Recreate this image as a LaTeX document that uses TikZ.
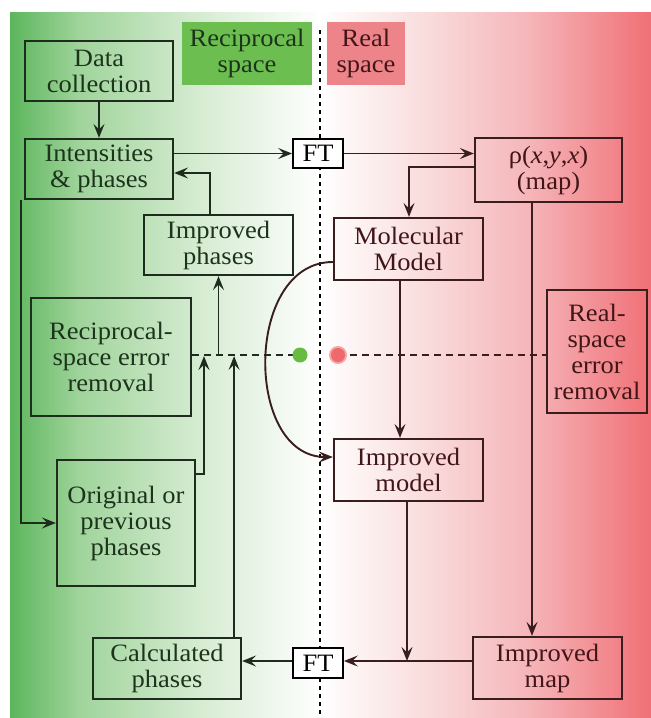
\documentclass[tikz,border=0pt]{standalone}
\usepackage{fontspec}
\setmainfont{Liberation Serif}[FakeStretch=1.06]
\usetikzlibrary{arrows.meta,calc}
\definecolor{gA}{RGB}{92,182,92}
\definecolor{gB}{RGB}{160,212,155}
\definecolor{gC}{RGB}{214,236,210}
\definecolor{rA}{RGB}{250,222,222}
\definecolor{rB}{RGB}{245,182,186}
\definecolor{rC}{RGB}{240,112,118}
\definecolor{gLab}{RGB}{108,190,80}
\definecolor{rLab}{RGB}{236,132,138}
\definecolor{gT}{RGB}{28,52,28}
\definecolor{rT}{RGB}{66,22,24}
\definecolor{gLine}{RGB}{30,44,30}
\definecolor{rLine}{RGB}{58,30,30}
\definecolor{gDot}{RGB}{104,186,64}
\definecolor{rDot}{RGB}{238,104,108}
\newcommand{\fs}{\fontsize{25}{26}\selectfont}
\begin{document}
\begin{tikzpicture}[x=1pt,y=-1pt,
  gbox/.style={draw=gLine, line width=2.2pt, text=gT, align=center, inner sep=0pt, font=\fs},
  rbox/.style={draw=rLine, line width=2.2pt, text=rT, align=center, inner sep=0pt, font=\fs},
  ftbox/.style={draw=black, fill=white, line width=1.8pt, text=black, inner sep=0pt, font=\fs, minimum width=50pt, minimum height=29pt},
  arr/.style={line width=1.9pt, -{Stealth[length=14pt,width=11pt,inset=5.5pt]}},
  garr/.style={arr, draw=gLine},
  rarr/.style={arr, draw=rLine},
  hdash/.style={line width=2pt, dash pattern=on 7pt off 5pt},
]
\useasboundingbox (0,0) rectangle (651,718);
% background
\fill[white] (0,0) rectangle (651,718);
\shade[left color=gA, right color=gB] (10,12) rectangle (80,718);
\shade[left color=gB, right color=gC] (79.5,12) rectangle (200,718);
\shade[left color=gC, right color=white] (199.5,12) rectangle (321,718);
\shade[left color=white, right color=rA] (320,12) rectangle (420,718);
\shade[left color=rA, right color=rB] (419.5,12) rectangle (528,718);
\shade[left color=rB, right color=rC] (527.5,12) rectangle (651,718);
% vertical separator
\draw[black, line width=1.9pt, dash pattern=on 4pt off 4pt] (320,30) -- (320,718);
% space labels
\node[fill=gLab, text=gT, minimum width=130pt, minimum height=63pt, align=center, inner sep=0pt, font=\fs] (recip) at (247,53.5) {Reciprocal\\space};
\node[fill=rLab, text=rT, minimum width=78pt, minimum height=63pt, align=center, inner sep=0pt, font=\fs] (real) at (366,53.5) {Real\\space};
% boxes
\node[gbox, minimum width=148pt, minimum height=60pt] (data) at (99,71) {Data\\collection};
\node[gbox, minimum width=148pt, minimum height=60pt] (inten) at (99,169) {Intensities\\\& phases};
\node[ftbox] (ft1) at (318,153.5) {FT};
\node[rbox, minimum width=147pt, minimum height=64pt] (rho) at (548.5,170) {ρ(\textit{x},\textit{y},\textit{x})\\(map)};
\node[gbox, minimum width=149pt, minimum height=60pt] (impph) at (218.5,245) {Improved\\phases};
\node[rbox, minimum width=149pt, minimum height=62pt] (mol) at (408.5,249) {Molecular\\Model};
\node[gbox, minimum width=160pt, minimum height=118pt] (rerr) at (111,357) {Reciprocal-\\space error\\removal};
\node[rbox, minimum width=100pt, minimum height=123pt] (rserr) at (597,351.5) {Real-\\space\\error\\removal};
\node[rbox, minimum width=149pt, minimum height=62pt] (impmod) at (408.5,470) {Improved\\model};
\node[gbox, minimum width=138pt, minimum height=126pt] (orig) at (126,523) {Original or\\previous\\phases};
\node[gbox, minimum width=148pt, minimum height=61pt] (calc) at (167,668.5) {Calculated\\phases};
\node[ftbox, minimum height=30pt] (ft2) at (318,663) {FT};
\node[rbox, minimum width=149pt, minimum height=62pt] (impmap) at (547.5,668) {Improved\\map};
% error-removal dashed line and dots
\coordinate (gdotc) at (300,355);
\coordinate (rdotc) at (338,355);
\draw[hdash, gLine] (rerr.east |- gdotc) -- (gdotc);
\draw[hdash, rLine] (rdotc) -- (rserr.west |- rdotc);
\fill[gDot] (gdotc) circle (7.5pt);
\fill[rDot!60] (rdotc) circle (9pt);
\fill[rDot] (rdotc) circle (7pt);
% connectors
\draw[garr] (data.south) -- (inten.north);
\draw[garr] (inten.east |- ft1.west) -- (ft1.west);
\draw[rarr] (ft1.east) -- (rho.west |- ft1.east);
\draw[rarr] ([yshift=3pt]rho.west) -| ([xshift=0.5pt]mol.north);
\draw[garr] ([xshift=-8.5pt]impph.north) |- ([yshift=-4pt]inten.east);
\draw[garr] ([xshift=-3pt]inten.south west) -- ([xshift=-3pt]inten.south west |- orig.west) -- (orig.west);
\coordinate (upA) at (204,356);
\coordinate (upB) at (233,356);
\draw[garr] ([yshift=-15pt]orig.north east) -| (upA);
\draw[garr] ([xshift=-8pt]calc.north east) -- ([xshift=-8pt]calc.north east |- upB);
\draw[garr] (impph.south |- gdotc) -- (impph.south);
\draw[rarr] ([yshift=-13pt]mol.west) .. controls (244,262) and (244,457) .. ([yshift=13pt]impmod.west);
\draw[rarr] ([xshift=-8.5pt]mol.south) -- ([xshift=-8.5pt]impmod.north);
\draw[rarr] ([xshift=-16.5pt]rho.south) -- ([xshift=-16.5pt]rho.south |- impmap.north);
\coordinate (botjoin) at (407,661);
\draw[rarr] (impmod.south -| botjoin) -- (botjoin);
\draw[rarr] (impmap.west |- botjoin) -- (ft2.east |- botjoin);
\draw[garr] (ft2.west |- botjoin) -- (calc.east |- botjoin);
\end{tikzpicture}
\end{document}
